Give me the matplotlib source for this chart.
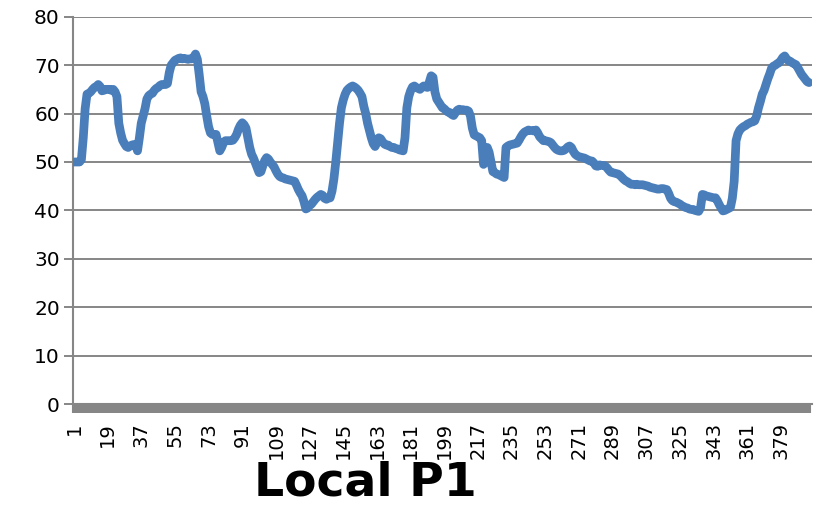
import numpy as np
import matplotlib
matplotlib.use("Agg")
import matplotlib.pyplot as plt


# series values, one per sample (1..394)
values = [
    50, 50, 50, 50, 50.5, 55, 61, 64, 64.2, 64.5, 65, 65.4, 65.6, 66, 65.6, 64.7, 64.8, 65,
    65, 65, 64.8, 65, 64.5, 63.5, 58, 56, 54.5, 53.8, 53.2, 53, 53.3, 53.5, 53.6, 53.5, 52.3, 55,
    58, 59.5, 61, 63, 63.7, 64, 64.2, 64.8, 65.2, 65.4, 65.8, 66, 66, 66, 66.2, 68.5, 70, 70.5,
    71, 71.2, 71.4, 71.5, 71.3, 71.4, 71.3, 71.2, 71.3, 71.3, 71.6, 72.3, 71.2, 68, 64.5, 63.5, 62, 59.5,
    57.3, 56, 55.7, 55.7, 55.7, 54, 52.3, 53, 54, 54.4, 54.4, 54.4, 54.4, 54.5, 55, 55.7, 56.8, 57.6,
    58.1, 57.7, 57, 55, 53, 51.6, 50.8, 49.8, 48.8, 47.8, 48, 49.2, 50.3, 50.9, 50.6, 50, 49.5, 49,
    48.2, 47.5, 47, 46.8, 46.7, 46.5, 46.4, 46.3, 46.2, 46.1, 46, 45.2, 44.3, 43.6, 43, 41.8, 40.3, 40.5,
    41, 41.3, 41.8, 42.3, 42.7, 43, 43.3, 43.1, 42.5, 42.3, 42.5, 42.6, 44, 46.5, 50, 54, 58, 61.2,
    62.8, 64, 64.8, 65.2, 65.5, 65.7, 65.5, 65.2, 64.8, 64.2, 63.5, 61.5, 60, 58, 56.5, 55, 53.8, 53.2,
    54, 55, 54.8, 54.2, 53.7, 53.5, 53.5, 53.2, 53, 53, 52.8, 52.7, 52.5, 52.4, 52.3, 55, 61.2, 63.5,
    64.7, 65.5, 65.7, 65.4, 65.2, 65, 65.4, 65.7, 65.5, 65.4, 66.5, 67.8, 67.5, 64.5, 63, 62.4, 61.8, 61.2,
    61, 60.6, 60.3, 60.2, 59.8, 59.6, 60.2, 60.7, 60.9, 60.8, 60.8, 60.7, 60.7, 60.5, 59.5, 57, 55.6, 55.4,
    55.2, 55, 54.4, 49.5, 52.5, 53, 52, 50, 48, 47.8, 47.5, 47.4, 47.2, 47, 46.8, 53, 53.3, 53.5,
    53.6, 53.7, 53.8, 53.9, 54.5, 55.2, 55.8, 56.2, 56.4, 56.6, 56.5, 56.5, 56.4, 56.6, 56, 55.2, 54.8, 54.4,
    54.4, 54.3, 54.2, 54, 53.5, 53, 52.6, 52.4, 52.3, 52.3, 52.4, 52.7, 53.1, 53.3, 53, 52.2, 51.6, 51.3,
    51.1, 51, 50.9, 50.8, 50.6, 50.4, 50.2, 50.2, 49.8, 49.2, 49.1, 49.4, 49.3, 49.3, 49.2, 48.8, 48.3, 47.9,
    47.8, 47.7, 47.6, 47.5, 47.2, 46.8, 46.4, 46.1, 45.9, 45.6, 45.4, 45.4, 45.3, 45.4, 45.3, 45.3, 45.3, 45.2,
    45.1, 45, 44.8, 44.7, 44.6, 44.5, 44.4, 44.4, 44.5, 44.5, 44.4, 44.3, 43.5, 42.5, 42, 41.8, 41.7, 41.5,
    41.3, 41, 40.8, 40.6, 40.5, 40.3, 40.2, 40.2, 40, 39.9, 39.8, 40.5, 43.3, 43.2, 43, 42.9, 42.8, 42.7,
    42.6, 42.6, 42, 41.2, 40.5, 39.9, 40, 40.2, 40.4, 40.6, 42.5, 46, 54.4, 55.8, 56.6, 57, 57.3, 57.5,
    57.8, 58, 58.2, 58.3, 58.5, 59.5, 61.2, 62.5, 64, 64.8, 66, 67.2, 68.2, 69.4, 69.8, 70, 70.3, 70.5,
    71, 71.6, 71.9, 71.3, 70.9, 70.8, 70.5, 70.3, 70.1, 69.5, 68.8, 68.1, 67.6, 67.1, 66.6, 66.4,
]

x = np.arange(1, len(values) + 1)
label_ticks = list(range(1, len(values) + 1, 18))
y_ticks = list(range(0, 81, 10))

GRID = "#868686"
LINE = "#4A7EBB"

fig = plt.figure(figsize=(8.2, 5.07), dpi=100)
ax = fig.add_axes([0.089, 0.203, 0.901, 0.764])

ax.plot(
    x,
    values,
    color=LINE,
    linewidth=6.3,
    solid_joinstyle="round",
    solid_capstyle="round",
    zorder=3
)

ax.set_xlim(0.5, len(values) + 1.5)
ax.set_ylim(0, 80)

# horizontal gridlines
ax.set_yticks(y_ticks)
ax.yaxis.grid(True, color=GRID, linewidth=1.4)
ax.set_axisbelow(True)

for side in ["top", "right"]:
    ax.spines[side].set_visible(False)
ax.spines["left"].set_color(GRID)
ax.spines["left"].set_linewidth(1.5)
ax.spines["bottom"].set_color(GRID)
ax.spines["bottom"].set_linewidth(1.5)

ax.tick_params(
    axis="y",
    length=6.5,
    width=1.4,
    color=GRID,
    labelsize=14.5,
    pad=3
)

# one tick mark per category makes the thick band under the axis
ax.set_xticks(np.arange(0.5, len(values) + 1.5, 1), minor=True)
ax.tick_params(
    axis="x",
    which="minor",
    length=6.5,
    width=1.5,
    color=GRID
)

ax.set_xticks(label_ticks)
ax.set_xticklabels([str(t) for t in label_ticks], rotation=90, va="top")
ax.tick_params(
    axis="x",
    which="major",
    length=0,
    labelsize=14,
    pad=13
)

fig.text(
    0.445,
    0.002,
    "Local P1",
    fontsize=34,
    fontweight="bold",
    ha="center",
    va="bottom"
)

plt.savefig("out.png", dpi=100)
plt.close()
